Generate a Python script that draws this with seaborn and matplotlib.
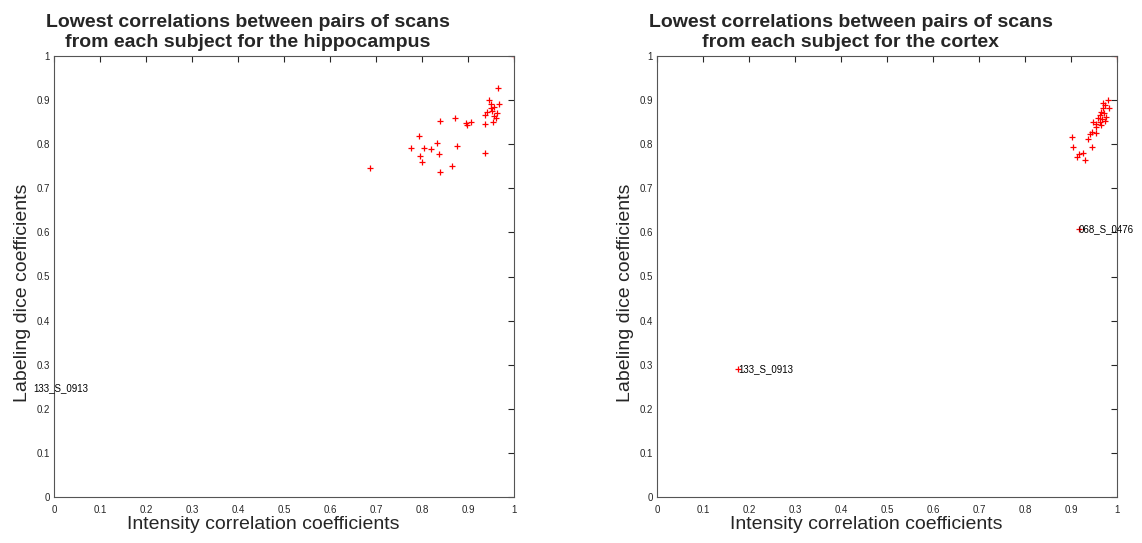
import matplotlib
matplotlib.use("Agg")
import matplotlib.pyplot as plt
import seaborn as sns
import pandas as pd

# ---- data ----
hip_x = [1.0, 0.965, 0.945, 0.951, 0.968, 0.957, 0.949, 0.942, 0.964, 0.953, 0.937,
         0.957, 0.961, 0.955, 0.936, 0.839, 0.871, 0.896, 0.897, 0.907, 0.794, 0.775,
         0.805, 0.819, 0.833, 0.877, 0.796, 0.837, 0.800, 0.938, 0.865, 0.839, 0.686,
         -0.045]
hip_y = [1.0, 0.927, 0.900, 0.891, 0.891, 0.885, 0.881, 0.874, 0.871, 0.875, 0.866,
         0.864, 0.859, 0.851, 0.846, 0.853, 0.859, 0.849, 0.843, 0.851, 0.818, 0.792,
         0.791, 0.790, 0.802, 0.797, 0.773, 0.777, 0.759, 0.780, 0.751, 0.738, 0.745,
         0.247]
hip_labels = {33: "133_S_0913"}

ctx_x = [1.0, 0.980, 0.969, 0.974, 0.982, 0.970, 0.965, 0.972, 0.963, 0.976, 0.958,
         0.967, 0.948, 0.962, 0.974, 0.954, 0.965, 0.954, 0.945, 0.954, 0.941, 0.937,
         0.946, 0.903, 0.905, 0.925, 0.918, 0.914, 0.930, 0.917, 0.176]
ctx_y = [1.0, 0.900, 0.894, 0.889, 0.881, 0.883, 0.874, 0.871, 0.866, 0.862, 0.859,
         0.857, 0.851, 0.851, 0.853, 0.846, 0.844, 0.838, 0.828, 0.825, 0.823, 0.812,
         0.794, 0.816, 0.794, 0.781, 0.777, 0.770, 0.764, 0.608, 0.290]
ctx_labels = {29: "068_S_0476", 30: "133_S_0913"}

titles = ["Lowest correlations between pairs of scans\nfrom each subject for the hippocampus",
          "Lowest correlations between pairs of scans\nfrom each subject for the cortex"]
xlabel = "Intensity correlation coefficients"
ylabel = "Labeling dice coefficients"
ticks = [0, 0.1, 0.2, 0.3, 0.4, 0.5, 0.6, 0.7, 0.8, 0.9, 1]
tick_labels = ["0", "0.1", "0.2", "0.3", "0.4", "0.5", "0.6", "0.7", "0.8", "0.9", "1"]

sns.set_style("white")
plt.rcParams["font.family"] = ["Liberation Sans", "DejaVu Sans"]

fig = plt.figure(figsize=(11.42, 5.43), dpi=100)
W, H = 1142, 543
axes = [fig.add_axes([54 / W, 1 - 497 / H, 460 / W, 441 / H]),
        fig.add_axes([657 / W, 1 - 497 / H, 460 / W, 441 / H])]

datasets = [(hip_x, hip_y, hip_labels), (ctx_x, ctx_y, ctx_labels)]
for ax, (xs, ys, labs), title in zip(axes, datasets, titles):
    df = pd.DataFrame({"x": xs, "y": ys})
    sns.scatterplot(data=df, x="x", y="y", ax=ax, marker="+", color="red",
                    s=22, linewidth=0.9, legend=False)
    for i, t in labs.items():
        ax.text(xs[i], ys[i], t, fontsize=7, ha="left", va="center",
                color="black", clip_on=False)
    ax.set_xlim(0, 1)
    ax.set_ylim(0, 1)
    ax.set_xticks(ticks)
    ax.set_xticklabels(tick_labels)
    ax.set_yticks(ticks)
    ax.set_yticklabels(tick_labels)
    ax.tick_params(direction="in", length=4, width=0.8, colors="#262626",
                   labelsize=7, top=True, right=True, pad=3)
    ax.tick_params(axis="x", pad=5.5)
    for sp in ax.spines.values():
        sp.set_visible(True)
        sp.set_color("#555555")
        sp.set_linewidth(0.8)
    ax.set_xlabel(xlabel, fontsize=14, color="#262626")
    ax.set_ylabel(ylabel, fontsize=14, color="#262626")
    ax.xaxis.set_label_coords(0.454, -0.043)
    ax.yaxis.set_label_coords(-0.05, 0.463)
    ax.set_title(title, fontsize=14, fontweight="bold", pad=6.5, linespacing=1.2,
                 x=0.4217)

fig.savefig("out.png", dpi=100)
